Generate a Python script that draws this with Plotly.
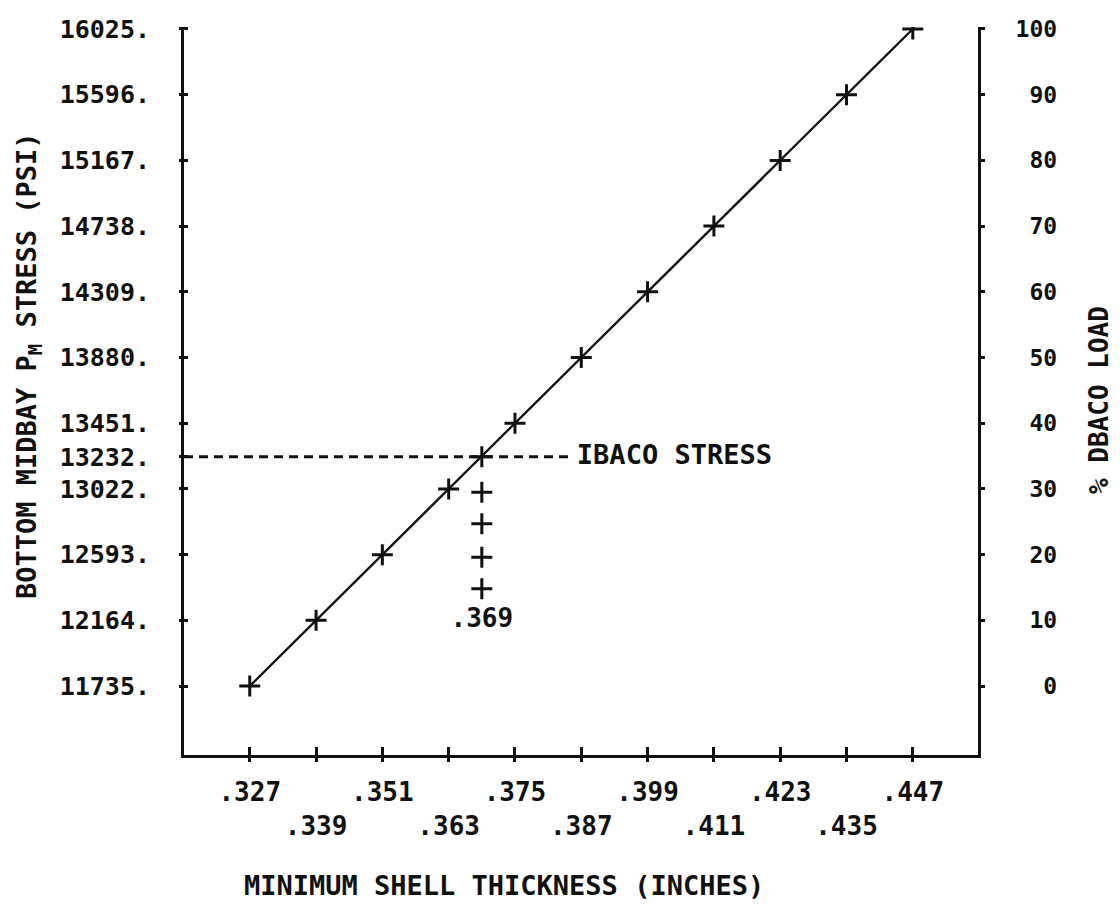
import plotly.graph_objects as go

# ---- data ----
thickness = [0.327, 0.339, 0.351, 0.363, 0.375, 0.387, 0.399, 0.411, 0.423, 0.435, 0.447]
stress = [11735, 12164, 12593, 13022, 13451, 13880, 14309, 14738, 15167, 15596, 16025]
load_pct = [0, 10, 20, 30, 40, 50, 60, 70, 80, 90, 100]

ibaco_stress = 13232
ibaco_thickness = 0.369
ibaco_label = "IBACO STRESS"
ibaco_text_x = 0.3862
dash_end_x = 0.3846
drop_marks_y = [13001, 12795, 12576, 12370]
drop_label_y = 12164
drop_label = ".369"

x_tick_vals = thickness
x_tick_text = [".327", ".339", ".351", ".363", ".375", ".387", ".399", ".411", ".423", ".435", ".447"]
y_tick_vals = [11735, 12164, 12593, 13022, 13232, 13451, 13880, 14309, 14738, 15167, 15596, 16025]
y_tick_text = [f"{v}." for v in y_tick_vals]
y2_tick_vals = load_pct
y2_tick_text = [str(v) for v in load_pct]

x_title = "MINIMUM SHELL THICKNESS (INCHES)"
y_title = "BOTTOM MIDBAY P<sub>M</sub> STRESS (PSI)"
y2_title = "% DBACO LOAD"

# ---- ranges ----
x_range = [0.3151, 0.4588]
y_range = [11285, 16038]
psi_per_pct = (stress[-1] - stress[0]) / 100.0
y2_range = [(y_range[0] - stress[0]) / psi_per_pct, (y_range[1] - stress[0]) / psi_per_pct]

FONT = "DejaVu Sans Mono"
BLACK = "#111"
NB = "\u00a0"

L, R, T, B = 184, 142, 27, 149
W, H = 1120, 904
PW, PH = W - L - R, H - T - B
AX_BOTTOM = H - B
AX_RIGHT = W - R


def tfont(size):
    return dict(family=FONT, size=size, color=BLACK, weight="bold")


fig = go.Figure()

# dashed IBACO stress line
fig.add_trace(go.Scatter(
    x=[x_range[0], dash_end_x], y=[ibaco_stress, ibaco_stress], mode="lines",
    line=dict(color=BLACK, width=3, dash="9px,6px"), hoverinfo="skip", showlegend=False))

# main curve
fig.add_trace(go.Scatter(
    x=thickness, y=stress, mode="lines+markers",
    line=dict(color=BLACK, width=2.4),
    marker=dict(symbol="cross-thin", size=15, line=dict(color=BLACK, width=3)),
    showlegend=False))

# intersection marker
fig.add_trace(go.Scatter(
    x=[ibaco_thickness], y=[ibaco_stress], mode="markers",
    marker=dict(symbol="cross-thin", size=15, line=dict(color=BLACK, width=3)),
    showlegend=False))

# vertical drop marks
fig.add_trace(go.Scatter(
    x=[ibaco_thickness] * len(drop_marks_y), y=drop_marks_y, mode="markers",
    marker=dict(symbol="cross-thin", size=15, line=dict(color=BLACK, width=3)),
    showlegend=False))

# .369 label
fig.add_trace(go.Scatter(
    x=[ibaco_thickness], y=[drop_label_y], mode="text", text=[drop_label],
    textposition="middle center", textfont=tfont(26), showlegend=False))

# IBACO STRESS label
fig.add_trace(go.Scatter(
    x=[ibaco_text_x], y=[ibaco_stress], mode="text", text=[ibaco_label],
    textposition="middle right", textfont=tfont(27), showlegend=False))

# invisible traces for the extra axes
fig.add_trace(go.Scatter(
    x=thickness, y=load_pct, yaxis="y2", mode="markers",
    marker=dict(opacity=0), hoverinfo="skip", showlegend=False))
fig.add_trace(go.Scatter(
    x=thickness, y=stress, xaxis="x2", yaxis="y3", mode="markers",
    marker=dict(opacity=0), hoverinfo="skip", showlegend=False))

x_text_rows = [t if i % 2 == 0 else "<br>" + t for i, t in enumerate(x_tick_text)]
y2_text_pad = [NB * (3 - len(t)) + t for t in y2_tick_text]

fig.update_layout(
    width=W, height=H,
    margin=dict(l=L, r=R, t=T, b=B),
    paper_bgcolor="white", plot_bgcolor="white",
    font=tfont(24),
    xaxis=dict(
        range=x_range, tickvals=x_tick_vals, ticktext=x_text_rows,
        showgrid=False, zeroline=False, showline=True, linecolor=BLACK, linewidth=3,
        ticks="inside", ticklen=8, tickwidth=2.5, tickcolor=BLACK,
        ticklabelstandoff=12, tickfont=tfont(26)),
    xaxis2=dict(
        range=x_range, overlaying="x", anchor="y3", side="bottom",
        tickvals=x_tick_vals, showticklabels=False,
        showgrid=False, zeroline=False, showline=False,
        ticks="outside", ticklen=6, tickwidth=2.5, tickcolor=BLACK),
    yaxis=dict(
        range=y_range, tickvals=y_tick_vals, ticktext=y_tick_text,
        showgrid=False, zeroline=False, showline=True, linecolor=BLACK, linewidth=3,
        ticks="inside", ticklen=4, tickwidth=2.5, tickcolor=BLACK,
        ticklabelstandoff=26, tickfont=tfont(25)),
    yaxis3=dict(
        range=y_range, overlaying="y", anchor="x2", side="left",
        tickvals=y_tick_vals, showticklabels=False,
        showgrid=False, zeroline=False, showline=False,
        ticks="outside", ticklen=4, tickwidth=2.5, tickcolor=BLACK),
    yaxis2=dict(
        range=y2_range, overlaying="y", side="right", anchor="x",
        tickvals=y2_tick_vals, ticktext=y2_text_pad,
        showgrid=False, zeroline=False, showline=True, linecolor=BLACK, linewidth=3,
        ticks="outside", ticklen=4, tickwidth=2.5, tickcolor=BLACK,
        ticklabelstandoff=26, tickfont=tfont(23)),
    annotations=[
        dict(text=x_title, xref="paper", yref="paper",
             x=(504 - L) / PW, y=-(885 - AX_BOTTOM) / PH,
             showarrow=False, xanchor="center", yanchor="middle", font=tfont(27)),
        dict(text=y_title, xref="paper", yref="paper",
             x=-(L - 28) / PW, y=(AX_BOTTOM - 366) / PH,
             showarrow=False, textangle=-90, xanchor="center", yanchor="middle", font=tfont(27)),
        dict(text=y2_title, xref="paper", yref="paper",
             x=1 + (1099 - AX_RIGHT) / PW, y=(AX_BOTTOM - 400) / PH,
             showarrow=False, textangle=-90, xanchor="center", yanchor="middle", font=tfont(26)),
    ],
)

fig.write_html("out.html")
